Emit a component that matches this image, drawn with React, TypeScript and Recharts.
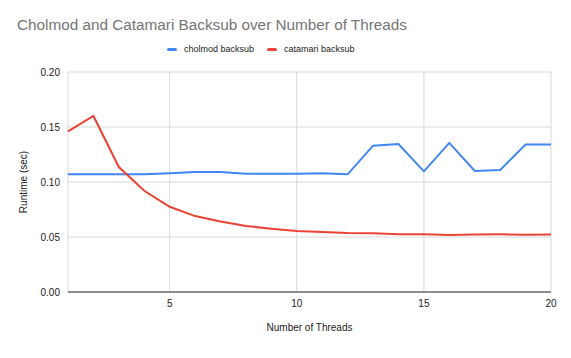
import React from 'react';
import { LineChart, Line, XAxis, YAxis, CartesianGrid } from 'recharts';

const threads = [1, 2, 3, 4, 5, 6, 7, 8, 9, 10, 11, 12, 13, 14, 15, 16, 17, 18, 19, 20];
const cholmodBacksub = [0.107, 0.107, 0.107, 0.107, 0.108, 0.109, 0.109, 0.1075, 0.1075, 0.1075, 0.108, 0.107, 0.133, 0.1345, 0.1097, 0.1355, 0.110, 0.111, 0.134, 0.134];
const catamariBacksub = [0.146, 0.160, 0.1136, 0.092, 0.0775, 0.069, 0.064, 0.060, 0.0575, 0.0555, 0.0545, 0.0536, 0.0533, 0.0524, 0.0524, 0.0518, 0.0523, 0.0524, 0.052, 0.0522];
const xTicks = [5, 10, 15, 20];
const yTicks = [0, 0.05, 0.1, 0.15, 0.2];

const data = threads.map((t, i) => ({
  threads: t,
  cholmod: cholmodBacksub[i],
  catamari: catamariBacksub[i],
}));

const FONT = '"Liberation Sans", Arial, sans-serif';

const legendItems = [
  { label: 'cholmod backsub', color: '#4285f4' },
  { label: 'catamari backsub', color: '#ea4335' },
];

const App: React.FC = () => {
  return (
    <div style={{ position: 'absolute', left: 0, top: 0, width: 571, height: 358, background: '#fff' }}>
      <div style={{ position: 'absolute', left: 17, top: 16, fontFamily: FONT, fontSize: 15.3, color: '#757575', whiteSpace: 'nowrap' }}>
        Cholmod and Catamari Backsub over Number of Threads
      </div>
      {/* legend drawn as html so it does not push the plot down */}
      <div style={{ position: 'absolute', left: 167, top: 44, display: 'flex', fontFamily: FONT, fontSize: 9, color: '#222' }}>
        {legendItems.map((it) => (
          <div key={it.label} style={{ display: 'flex', alignItems: 'center', marginRight: 13 }}>
            <span style={{ display: 'inline-block', width: 10, height: 3, borderRadius: 2, background: it.color, marginRight: 7 }} />
            <span>{it.label}</span>
          </div>
        ))}
      </div>
      <LineChart width={571} height={358} data={data} margin={{ top: 72, right: 20, left: 0, bottom: 0 }}>
        <CartesianGrid stroke="#d9d9d9" horizontal vertical />
        <XAxis
          dataKey="threads"
          type="number"
          domain={[1, 20]}
          ticks={xTicks}
          height={66}
          tickLine={false}
          axisLine={{ stroke: '#333' }}
          tick={{ fontFamily: FONT, fontSize: 10, fill: '#222' }}
          label={{ value: 'Number of Threads', position: 'insideBottom', offset: 27, style: { fontFamily: FONT, fontSize: 10, fill: '#222' } }}
        />
        <YAxis
          type="number"
          domain={[0, 0.2]}
          ticks={yTicks}
          width={68}
          tickLine={false}
          axisLine={false}
          tickFormatter={(v: number) => v.toFixed(2)}
          tick={{ fontFamily: FONT, fontSize: 10, fill: '#222' }}
          label={{ value: 'Runtime (sec)', angle: -90, position: 'insideLeft', offset: 23, style: { textAnchor: 'middle', fontFamily: FONT, fontSize: 10, fill: '#222' } }}
        />
        <Line type="linear" dataKey="cholmod" name="cholmod backsub" stroke="#4285f4" strokeWidth={2} dot={false} isAnimationActive={false} />
        <Line type="linear" dataKey="catamari" name="catamari backsub" stroke="#ea4335" strokeWidth={2} dot={false} isAnimationActive={false} />
      </LineChart>
    </div>
  );
};

export default App;
